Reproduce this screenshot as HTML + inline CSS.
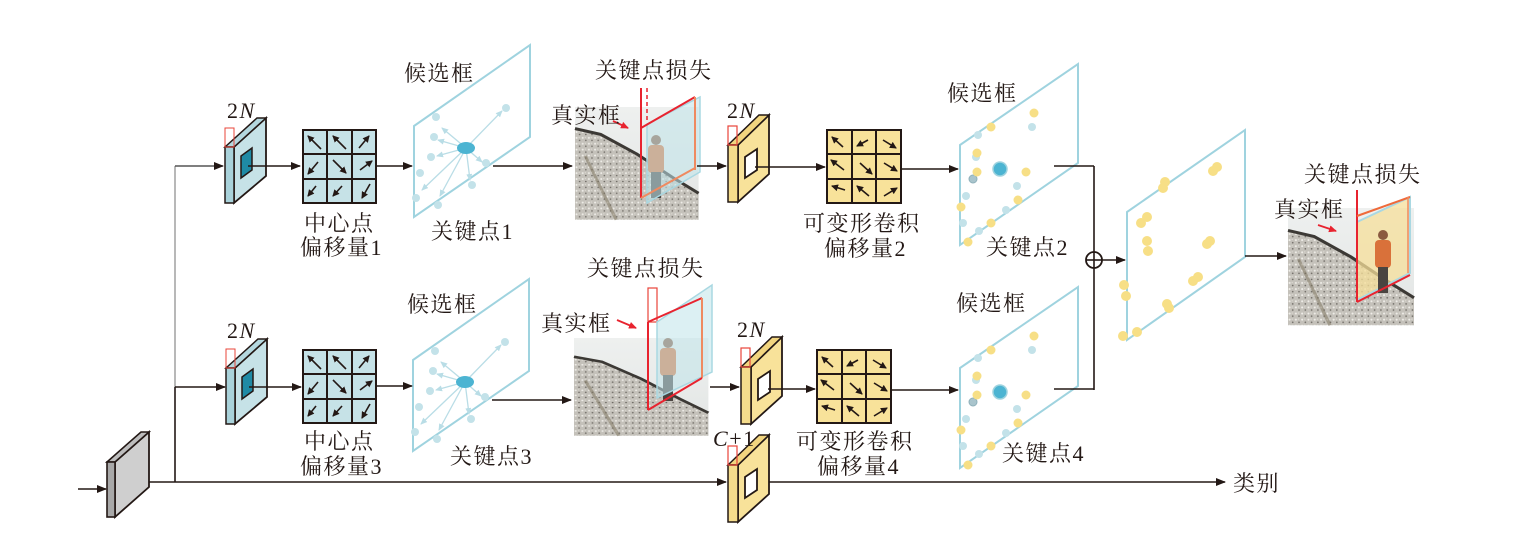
<!DOCTYPE html>
<html><head><meta charset="utf-8"><style>
html,body{margin:0;padding:0;background:#fff;}
svg{display:block;}
text{font-family:"Liberation Serif","Noto Serif CJK SC","Noto Sans CJK SC",serif;fill:#231815;font-size:22px;letter-spacing:1.5px;}
.it{font-style:italic;}
</style></head><body>
<svg width="1521" height="560" viewBox="0 0 1521 560" xmlns="http://www.w3.org/2000/svg">
<defs>
<marker id="ar" markerWidth="10" markerHeight="8" refX="9" refY="4" orient="auto" markerUnits="userSpaceOnUse"><path d="M0,0 L10,4 L0,8 z" fill="#231815"/></marker>
<marker id="sa" markerWidth="7" markerHeight="7" refX="6" refY="3.5" orient="auto" markerUnits="userSpaceOnUse"><path d="M0,0 L7,3.5 L0,7 z" fill="#231815"/></marker>
<marker id="ba" markerWidth="7" markerHeight="6" refX="6" refY="3" orient="auto" markerUnits="userSpaceOnUse"><path d="M0,0 L7,3 L0,6 z" fill="#b9dde6"/></marker>
<marker id="ra" markerWidth="8" markerHeight="7" refX="7" refY="3.5" orient="auto" markerUnits="userSpaceOnUse"><path d="M0,0 L8,3.5 L0,7 z" fill="#e8232f"/></marker>
<linearGradient id="sky" x1="0" y1="0" x2="0" y2="1"><stop offset="0" stop-color="#eef0ef"/><stop offset="1" stop-color="#e2e5e4"/></linearGradient>
<pattern id="grav" width="6" height="6" patternUnits="userSpaceOnUse"><rect width="6" height="6" fill="#c4c1ba"/><circle cx="1.5" cy="1.5" r="1" fill="#efede8"/><circle cx="4.5" cy="4" r="0.8" fill="#6c6862"/><circle cx="4" cy="1" r="0.6" fill="#e0ddd6"/></pattern>
<g id="photo">
<rect x="0" y="0" width="120" height="115" fill="url(#sky)"/>
<polygon points="0,22 25,28 60,48 95,72 120,88 120,115 0,115" fill="url(#grav)"/>
<polyline points="0,22 25,28 60,48 95,72 120,88" fill="none" stroke="#3c3935" stroke-width="3"/>
<path d="M10,50 L40,115" stroke="#7e745e" stroke-width="3" opacity="0.5"/>
</g>
<g id="runner">
<circle cx="0" cy="0" r="5" fill="#8a5a40"/>
<rect x="-8" y="5" width="16" height="28" rx="4" fill="#d9713a"/>
<rect x="-5" y="32" width="10" height="26" fill="#4a4440"/>
</g>
</defs>

<!-- main lines -->
<line x1="78" y1="489" x2="106" y2="489" stroke="#231815" stroke-width="1.6" marker-end="url(#ar)"/>
<line x1="132" y1="482" x2="726" y2="482" stroke="#231815" stroke-width="1.6" marker-end="url(#ar)"/>
<line x1="755" y1="482" x2="1225" y2="482" stroke="#231815" stroke-width="1.6" marker-end="url(#ar)"/>
<text x="1233" y="491">类别</text>
<line x1="175" y1="482" x2="175" y2="387" stroke="#231815" stroke-width="1.6"/>
<line x1="175" y1="387" x2="175" y2="166" stroke="#888" stroke-width="1.2"/>
<line x1="175" y1="166" x2="223" y2="166" stroke="#555" stroke-width="1.6" marker-end="url(#ar)"/>
<line x1="175" y1="387" x2="225" y2="387" stroke="#231815" stroke-width="1.6" marker-end="url(#ar)"/>

<!-- gray block -->
<polygon points="115,462 149,432 149,487 115,517" fill="#cfcfcf" stroke="#231815" stroke-width="1.8"/>
<polygon points="107,462 141,432 149,432 115,462" fill="#bdbdbd" stroke="#231815" stroke-width="1.6"/>
<rect x="107" y="462" width="8" height="55" fill="#a8a8a8" stroke="#231815" stroke-width="1.6"/>

<!-- blue blocks -->
<g id="bb">
<polygon points="234,147 266,118 266,176 234,203" fill="#c6e2e7" stroke="#231815" stroke-width="1.8"/>
<polygon points="225,147 257,118 266,118 234,147" fill="#b4d7de" stroke="#231815" stroke-width="1.5"/>
<rect x="225" y="147" width="9" height="56" fill="#a9d2da" stroke="#231815" stroke-width="1.5"/>
<polygon points="241,156 252,148 252,170 241,178" fill="#1f8aa5" stroke="#231815" stroke-width="1.5"/>
<rect x="225" y="128" width="9" height="19" fill="none" stroke="#e8443a" stroke-width="1"/>
<line x1="248" y1="166" x2="300" y2="166" stroke="#231815" stroke-width="1.6" marker-end="url(#ar)"/>
</g>
<use href="#bb" transform="translate(1,221)"/>
<text x="227" y="118">2<tspan class="it">N</tspan></text>
<text x="227" y="338">2<tspan class="it">N</tspan></text>

<!-- blue grids -->
<g id="bg" stroke="#231815">
<rect x="303" y="130" width="73" height="73" fill="#c6e2e7" stroke-width="2"/>
<line x1="327" y1="130" x2="327" y2="203" stroke-width="2"/><line x1="352" y1="130" x2="352" y2="203" stroke-width="2"/>
<line x1="303" y1="154" x2="376" y2="154" stroke-width="2"/><line x1="303" y1="179" x2="376" y2="179" stroke-width="2"/>
<g stroke-width="1.6" marker-end="url(#sa)">
<line x1="321" y1="149" x2="308" y2="136"/><line x1="346" y1="149" x2="333" y2="136"/><line x1="359" y1="148" x2="369" y2="136"/>
<line x1="318" y1="162" x2="308" y2="174"/><line x1="333" y1="160" x2="346" y2="173"/><line x1="360" y1="170" x2="372" y2="161"/>
<line x1="316" y1="186" x2="308" y2="196"/><line x1="342" y1="186" x2="333" y2="196"/><line x1="370" y1="184" x2="362" y2="198"/>
</g></g>
<use href="#bg" transform="translate(0,220)"/>
<text x="304" y="231">中心点</text><text x="300" y="255">偏移量1</text>
<text x="304" y="449">中心点</text><text x="300" y="474">偏移量3</text>

<!-- blue parallelograms -->
<g id="bp">
<polygon points="414,126 530,45 530,137 414,217" fill="#fff" stroke="#9fd3df" stroke-width="2"/>
<g fill="#c3e2e9">
<circle cx="436" cy="117" r="4"/><circle cx="506" cy="108" r="4"/><circle cx="434" cy="137" r="4"/><circle cx="431" cy="157" r="4"/><circle cx="420" cy="173" r="4"/><circle cx="486" cy="163" r="4"/><circle cx="472" cy="185" r="4"/><circle cx="416" cy="198" r="4"/><circle cx="438" cy="205" r="4"/>
</g>
<g stroke="#b9dde6" stroke-width="1.3" marker-end="url(#ba)">
<line x1="466" y1="148" x2="502" y2="111"/><line x1="466" y1="148" x2="442" y2="128"/><line x1="466" y1="148" x2="438" y2="140"/><line x1="466" y1="148" x2="437" y2="156"/><line x1="466" y1="148" x2="422" y2="190"/><line x1="466" y1="148" x2="440" y2="196"/><line x1="466" y1="148" x2="482" y2="162"/><line x1="466" y1="148" x2="470" y2="180"/>
</g>
<ellipse cx="466" cy="148" rx="9" ry="6" fill="#4cb4d2"/>
<line x1="493" y1="166" x2="572" y2="166" stroke="#231815" stroke-width="1.6" marker-end="url(#ar)"/>
</g>
<use href="#bp" transform="translate(-1,234)"/>
<line x1="376" y1="166" x2="412" y2="166" stroke="#231815" stroke-width="1.6" marker-end="url(#ar)"/>
<line x1="376" y1="386" x2="412" y2="386" stroke="#231815" stroke-width="1.6" marker-end="url(#ar)"/>
<text x="404" y="81">候选框</text><text x="431" y="239">关键点1</text>
<text x="407" y="312">候选框</text><text x="450" y="464">关键点3</text>

<!-- top photo -->
<use href="#photo" transform="translate(575,107) scale(1.03,0.98)"/>
<use href="#runner" transform="translate(656,140)"/>
<polygon points="647,124 700,97 700,172 647,203" fill="#bfe3ea" fill-opacity="0.55" stroke="#a9d8e2" stroke-width="1.5"/>
<line x1="641" y1="88" x2="641" y2="198" stroke="#e8232f" stroke-width="2"/>
<line x1="647" y1="88" x2="647" y2="122" stroke="#e8232f" stroke-width="1.5" stroke-dasharray="4,3"/>
<line x1="641" y1="128" x2="695" y2="97" stroke="#e8232f" stroke-width="2"/>
<line x1="695" y1="97" x2="695" y2="170" stroke="#ef8a60" stroke-width="2"/>
<line x1="641" y1="198" x2="695" y2="168" stroke="#ef8a60" stroke-width="2"/>
<line x1="613" y1="121" x2="628" y2="128" stroke="#e8232f" stroke-width="1.8" marker-end="url(#ra)"/>
<text x="551" y="123">真实框</text><text x="595" y="78">关键点损失</text>
<line x1="697" y1="166" x2="726" y2="166" stroke="#231815" stroke-width="1.6" marker-end="url(#ar)"/>

<!-- bottom photo -->
<use href="#photo" transform="translate(574,338) scale(1.12,0.85)"/>
<use href="#runner" transform="translate(668,343)"/>
<rect x="648" y="288" width="9" height="34" fill="none" stroke="#e8443a" stroke-width="1.2"/>
<polygon points="657,322 712,285 712,372 657,398" fill="#bfe3ea" fill-opacity="0.55" stroke="#a9d8e2" stroke-width="1.5"/>
<line x1="648" y1="322" x2="648" y2="410" stroke="#e8232f" stroke-width="2"/>
<line x1="648" y1="322" x2="702" y2="298" stroke="#e8232f" stroke-width="2"/>
<line x1="702" y1="298" x2="702" y2="378" stroke="#ef8a60" stroke-width="2"/>
<line x1="648" y1="410" x2="702" y2="378" stroke="#e8232f" stroke-width="2"/>
<line x1="617" y1="320" x2="636" y2="328" stroke="#e8232f" stroke-width="1.8" marker-end="url(#ra)"/>
<text x="541" y="331">真实框</text><text x="587" y="276">关键点损失</text>
<line x1="710" y1="387" x2="739" y2="387" stroke="#231815" stroke-width="1.6" marker-end="url(#ar)"/>

<!-- yellow blocks -->
<g id="yb">
<polygon points="738,145 769,115 769,174 738,202" fill="#f8e29a" stroke="#231815" stroke-width="1.8"/>
<polygon points="728,145 759,115 769,115 738,145" fill="#f2d57f" stroke="#231815" stroke-width="1.5"/>
<rect x="728" y="145" width="10" height="57" fill="#f5dc8c" stroke="#231815" stroke-width="1.5"/>
<polygon points="745,157 757,149 757,170 745,178" fill="#fff" stroke="#231815" stroke-width="1.8"/>
<rect x="728" y="126" width="9" height="19" fill="none" stroke="#e8443a" stroke-width="1.2"/>
</g>
<use href="#yb" transform="translate(13,222)"/>
<use href="#yb" transform="translate(0,320)"/>
<text x="727" y="118">2<tspan class="it">N</tspan></text>
<text x="737" y="337">2<tspan class="it">N</tspan></text>
<text x="713" y="446"><tspan class="it">C</tspan>+1</text>
<line x1="755" y1="167" x2="825" y2="167" stroke="#231815" stroke-width="1.6" marker-end="url(#ar)"/>
<line x1="768" y1="389" x2="815" y2="389" stroke="#231815" stroke-width="1.6" marker-end="url(#ar)"/>

<!-- yellow grids -->
<g id="yg" stroke="#231815">
<rect x="827" y="130" width="74" height="73" fill="#f8e29a" stroke-width="2"/>
<line x1="852" y1="130" x2="852" y2="203" stroke-width="2"/><line x1="876" y1="130" x2="876" y2="203" stroke-width="2"/>
<line x1="827" y1="154" x2="901" y2="154" stroke-width="2"/><line x1="827" y1="179" x2="901" y2="179" stroke-width="2"/>
<g stroke-width="1.6" marker-end="url(#sa)">
<line x1="843" y1="147" x2="832" y2="137"/><line x1="868" y1="140" x2="857" y2="146"/><line x1="883" y1="140" x2="896" y2="148"/>
<line x1="844" y1="170" x2="831" y2="160"/><line x1="860" y1="163" x2="872" y2="174"/><line x1="884" y1="163" x2="897" y2="171"/>
<line x1="845" y1="190" x2="832" y2="186"/><line x1="869" y1="196" x2="857" y2="186"/><line x1="884" y1="196" x2="897" y2="188"/>
</g></g>
<use href="#yg" transform="translate(-10,220)"/>
<text x="803" y="231">可变形卷积</text><text x="824" y="256">偏移量2</text>
<text x="796" y="449">可变形卷积</text><text x="817" y="474">偏移量4</text>
<line x1="901" y1="169" x2="958" y2="169" stroke="#231815" stroke-width="1.6" marker-end="url(#ar)"/>
<line x1="891" y1="390" x2="958" y2="390" stroke="#231815" stroke-width="1.6" marker-end="url(#ar)"/>

<!-- yellow keypoint parallelograms -->
<g id="yp">
<polygon points="960,145 1078,64 1078,163 960,245" fill="#fff" stroke="#9fd3df" stroke-width="2"/>
<g fill="#c3e2e9"><circle cx="1032" cy="127" r="4"/><circle cx="978" cy="135" r="4"/><circle cx="976" cy="157" r="4"/><circle cx="1017" cy="186" r="4"/><circle cx="966" cy="196" r="4"/><circle cx="1006" cy="210" r="4"/><circle cx="963" cy="223" r="4"/><circle cx="979" cy="231" r="4"/></g>
<circle cx="973" cy="179" r="4" fill="#a9c4cc" stroke="#8fb0ba"/>
<g fill="#f7df86"><circle cx="1034" cy="113" r="4.5"/><circle cx="991" cy="127" r="4.5"/><circle cx="977" cy="153" r="4.5"/><circle cx="977" cy="172" r="4.5"/><circle cx="1026" cy="172" r="4.5"/><circle cx="1018" cy="200" r="4.5"/><circle cx="961" cy="207" r="4.5"/><circle cx="991" cy="223" r="4.5"/><circle cx="968" cy="242" r="4.5"/></g>
<circle cx="1000" cy="169" r="7" fill="#4cb4d2" stroke="#9fd3df" stroke-width="1.5"/>
<line x1="1054" y1="166" x2="1094" y2="166" stroke="#231815" stroke-width="1.6"/>
</g>
<use href="#yp" transform="translate(0,223)"/>
<text x="947" y="101">候选框</text><text x="986" y="255">关键点2</text>
<text x="956" y="311">候选框</text><text x="1002" y="461">关键点4</text>
<line x1="1094" y1="166" x2="1094" y2="390" stroke="#231815" stroke-width="1.6"/>
<circle cx="1094" cy="260" r="8" fill="#fff" stroke="#231815" stroke-width="1.8"/>
<line x1="1086" y1="260" x2="1102" y2="260" stroke="#231815" stroke-width="1.6"/>
<line x1="1094" y1="252" x2="1094" y2="268" stroke="#231815" stroke-width="1.6"/>
<line x1="1102" y1="260" x2="1125" y2="260" stroke="#231815" stroke-width="1.6" marker-end="url(#ar)"/>

<!-- big parallelogram -->
<polygon points="1127,212 1245,130 1245,257 1127,340" fill="#fff" stroke="#9fd3df" stroke-width="2"/>
<g fill="#f7df86">
<circle cx="1217" cy="167" r="5"/><circle cx="1213" cy="171" r="5"/><circle cx="1165" cy="182" r="5"/><circle cx="1163" cy="188" r="5"/>
<circle cx="1147" cy="217" r="5"/><circle cx="1141" cy="223" r="5"/><circle cx="1147" cy="241" r="5"/><circle cx="1148" cy="251" r="5"/>
<circle cx="1210" cy="241" r="5"/><circle cx="1207" cy="244" r="5"/><circle cx="1124" cy="285" r="5"/><circle cx="1126" cy="296" r="5"/>
<circle cx="1198" cy="277" r="5"/><circle cx="1193" cy="281" r="5"/><circle cx="1167" cy="304" r="5"/><circle cx="1169" cy="308" r="5"/>
<circle cx="1123" cy="336" r="5"/><circle cx="1137" cy="332" r="5"/></g>
<line x1="1245" y1="256" x2="1286" y2="256" stroke="#231815" stroke-width="1.6" marker-end="url(#ar)"/>

<!-- right photo -->
<use href="#photo" transform="translate(1288,208) scale(1.05,1.02)"/>
<polygon points="1357,222 1410,197 1410,273 1357,300" fill="#f6df9a" fill-opacity="0.75" stroke="#a9d8e2" stroke-width="2"/>
<use href="#runner" transform="translate(1383,235)"/>
<line x1="1357" y1="190" x2="1357" y2="302" stroke="#e8232f" stroke-width="2"/>
<line x1="1357" y1="216" x2="1410" y2="197" stroke="#ef6a3a" stroke-width="2"/>
<line x1="1408" y1="197" x2="1408" y2="273" stroke="#ef8a60" stroke-width="1.5"/>
<line x1="1357" y1="302" x2="1410" y2="275" stroke="#e8232f" stroke-width="2"/>
<line x1="1318" y1="225" x2="1336" y2="231" stroke="#e8232f" stroke-width="1.8" marker-end="url(#ra)"/>
<text x="1274" y="217">真实框</text><text x="1304" y="182">关键点损失</text>
</svg>
</body></html>
